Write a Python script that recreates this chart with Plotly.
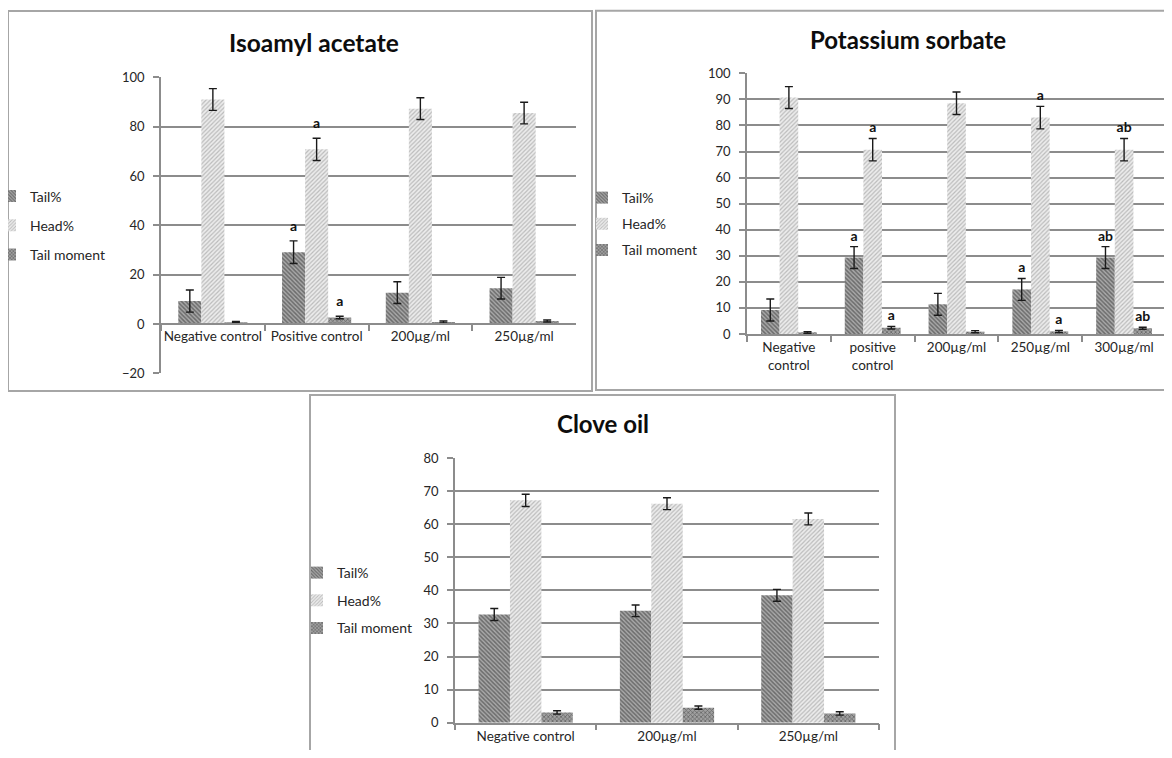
import plotly.graph_objects as go

# ---------------- data ----------------
series_names = ["Tail%", "Head%", "Tail moment"]

iso_categories = ["Negative control", "Positive control", "200µg/ml", "250µg/ml"]
iso_tail = [9.3, 29.1, 12.7, 14.5]
iso_tail_err = [4.5, 4.6, 4.4, 4.4]
iso_head = [91.0, 70.8, 87.3, 85.5]
iso_head_err = [4.4, 4.5, 4.4, 4.4]
iso_moment = [0.7, 2.6, 0.8, 1.2]
iso_moment_err = [0.3, 0.5, 0.4, 0.4]
iso_tail_sig = ["", "a", "", ""]
iso_head_sig = ["", "a", "", ""]
iso_moment_sig = ["", "a", "", ""]

ps_categories = ["Negative<br>control", "positive<br>control", "200µg/ml", "250µg/ml", "300µg/ml"]
ps_tail = [9.2, 29.3, 11.4, 17.1, 29.3]
ps_tail_err = [4.2, 4.2, 4.2, 4.2, 4.2]
ps_head = [90.7, 70.7, 88.5, 83.0, 70.7]
ps_head_err = [4.2, 4.3, 4.3, 4.3, 4.3]
ps_moment = [0.6, 2.4, 0.9, 1.0, 2.2]
ps_moment_err = [0.3, 0.5, 0.4, 0.4, 0.4]
ps_tail_sig = ["", "a", "", "a", "ab"]
ps_head_sig = ["", "a", "", "a", "ab"]
ps_moment_sig = ["", "a", "", "a", "ab"]

clove_categories = ["Negative control", "200µg/ml", "250µg/ml"]
clove_tail = [32.7, 33.8, 38.5]
clove_tail_err = [1.8, 1.75, 1.8]
clove_head = [67.2, 66.2, 61.6]
clove_head_err = [1.85, 1.8, 1.8]
clove_moment = [3.1, 4.55, 2.8]
clove_moment_err = [0.5, 0.5, 0.5]

titles = ["Isoamyl acetate", "Potassium sorbate", "Clove oil"]

# ---------------- style ----------------
# the page body keeps its default 8px margin, so the figure sits at (8, 8)
OFF = 8
W, H = 1172 - OFF, 758 - 2 * OFF
FONT = "Lato"
TXT = "#262626"
GRID = "#8c8c8c"
FRAME = "#a6a6a6"


def fx(px):
    return (px - OFF) / W


def fy(py):
    return 1 - (py - OFF) / H


patterns = [
    dict(shape="\\", fgcolor="#2e2e2e", bgcolor="#a9a9a9", size=3, solidity=0.5),
    dict(shape="/", fgcolor="#8a8a8a", bgcolor="#ececec", size=3, solidity=0.4),
    dict(shape="x", fgcolor="#2e2e2e", bgcolor="#a0a0a0", size=3, solidity=0.45),
]

fig = go.Figure()

panels = [
    dict(cats=iso_categories, vals=[iso_tail, iso_head, iso_moment],
         errs=[iso_tail_err, iso_head_err, iso_moment_err],
         sigs=[iso_tail_sig, iso_head_sig, iso_moment_sig], xa="x", ya="y",
         legend="legend", label_pad=1.6),
    dict(cats=ps_categories, vals=[ps_tail, ps_head, ps_moment],
         errs=[ps_tail_err, ps_head_err, ps_moment_err],
         sigs=[ps_tail_sig, ps_head_sig, ps_moment_sig], xa="x2", ya="y2",
         legend="legend2", label_pad=0.0),
    dict(cats=clove_categories, vals=[clove_tail, clove_head, clove_moment],
         errs=[clove_tail_err, clove_head_err, clove_moment_err],
         sigs=None, xa="x3", ya="y3", legend="legend3", label_pad=0.0),
]

for p_i, p in enumerate(panels):
    for s_i, name in enumerate(series_names):
        pat = patterns[s_i]
        fig.add_trace(go.Bar(
            x=p["cats"], y=p["vals"][s_i], name=name,
            xaxis=p["xa"], yaxis=p["ya"], legend=p["legend"],
            legendgroup=f"p{p_i}s{s_i}", offsetgroup=f"p{p_i}s{s_i}",
            marker=dict(color=pat["bgcolor"], line=dict(width=0), pattern=pat),
            error_y=dict(type="data", array=p["errs"][s_i], visible=True,
                         color="#1a1a1a", thickness=1.4, width=4),
            hoverinfo="x+y+name",
        ))
    if p["sigs"] is not None:
        # transparent bars reaching the top of each error bar carry the significance letters
        for s_i, name in enumerate(series_names):
            tops = [v + e + p["label_pad"] for v, e in zip(p["vals"][s_i], p["errs"][s_i])]
            fig.add_trace(go.Bar(
                x=p["cats"], y=tops, text=p["sigs"][s_i],
                textposition="outside", constraintext="none", cliponaxis=False,
                textangle=0,
                outsidetextfont=dict(family=FONT, size=14, color="#111111", weight="bold"),
                marker=dict(color="rgba(0,0,0,0)", line=dict(width=0)),
                xaxis=p["xa"], yaxis=p["ya"], showlegend=False, hoverinfo="skip",
                offsetgroup=f"p{p_i}s{s_i}",
            ))

axis_common = dict(
    showline=True, linecolor=GRID, linewidth=1.5,
)
xfont = dict(family=FONT, size=13.5, color=TXT)
yfont = dict(family=FONT, size=13, color=TXT)

xaxis_style = dict(type="category", tickson="boundaries", ticks="outside", ticklen=6,
                   tickcolor=GRID, tickwidth=1.5, showgrid=False, tickangle=0,
                   tickfont=xfont, **axis_common)
yaxis_style = dict(showgrid=True, gridcolor=GRID, gridwidth=1.5, zeroline=False,
                   ticks="outside", ticklen=6, tickcolor=GRID, tickwidth=1.5,
                   ticklabelstandoff=6, tickfont=yfont, **axis_common)

legend_style = dict(xanchor="left", yanchor="top",
                    font=dict(family=FONT, size=14, color=TXT),
                    bgcolor="rgba(0,0,0,0)")

fig.update_layout(
    width=W, height=H,
    margin=dict(l=0, r=0, t=0, b=0, autoexpand=False),
    paper_bgcolor="white", plot_bgcolor="white",
    barmode="group", bargap=1.5 / 4.5, bargroupgap=0,
    font=dict(family=FONT, color=TXT),
    # panel 1
    xaxis=dict(domain=[fx(161), fx(576)], anchor="free", position=fy(324), **xaxis_style),
    yaxis=dict(domain=[fy(373.3), fy(77.3)], range=[-20, 100], dtick=20, anchor="x",
               **yaxis_style),
    # panel 2
    xaxis2=dict(domain=[fx(747), fx(1166)], anchor="y2", **xaxis_style),
    yaxis2=dict(domain=[fy(334), fy(73.3)], range=[0, 100], dtick=10, anchor="x2",
                **yaxis_style),
    # panel 3
    xaxis3=dict(domain=[fx(455), fx(879)], anchor="y3", **xaxis_style),
    yaxis3=dict(domain=[fy(722.7), fy(458)], range=[0, 80], dtick=10, anchor="x3",
                **yaxis_style),
    legend=dict(x=fx(-10), y=fy(180.5), tracegroupgap=8, **legend_style),
    legend2=dict(x=fx(582), y=fy(182), tracegroupgap=5, **legend_style),
    legend3=dict(x=fx(297), y=fy(557), tracegroupgap=6.5, **legend_style),
)

# panel frames
frames = [(8, 11, 592, 391), (596, 10.7, 1185, 390), (310, 395, 895, 775)]
for x0, y0, x1, y1 in frames:
    fig.add_shape(type="rect", xref="paper", yref="paper",
                  x0=fx(x0), x1=fx(x1), y0=fy(y1), y1=fy(y0),
                  line=dict(color=FRAME, width=2), layer="below")

# panel titles
title_pos = [(314, 43), (908, 40), (602.5, 423)]
title_sizes = [24.5, 24, 24]
for t, (cx, cy), fs in zip(titles, title_pos, title_sizes):
    fig.add_annotation(text=t, xref="paper", yref="paper", x=fx(cx), y=fy(cy),
                       xanchor="center", yanchor="middle", showarrow=False,
                       font=dict(family=FONT, size=fs, color="#0d0d0d", weight="bold"))

fig.write_html("out.html", config={"displayModeBar": False})
